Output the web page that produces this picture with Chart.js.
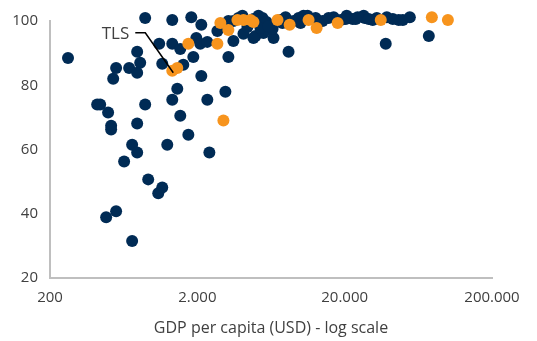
<!DOCTYPE html>
<html>
<head>
<meta charset="utf-8">
<script src="https://cdn.jsdelivr.net/npm/chart.js@4"></script>
<style>
  body { margin: 0; background: #fff; }
</style>
</head>
<body>
<canvas id="gdpChart" width="537" height="341"></canvas>
<script>
// =========================
// DATA
// =========================

// GDP per capita (USD), other countries
const otherGdp = [
  265, 885, 1352, 1820, 2128, 2736, 3514, 781, 1102, 1352,
  1968, 2094, 2338, 1532, 1878, 1606, 1156, 819, 689, 562,
  781, 537, 2128, 3514, 3250, 1462, 1352, 2338, 3100, 418,
  438, 496, 885, 781, 520, 520, 1532, 1738, 722, 781,
  1250, 2414, 637, 928, 1156, 1086, 562, 481, 722,
  4046, 5200, 4112, 4964, 5620, 6580, 6480, 8320, 11200, 20640,
  26920, 38640, 46580, 38000, 27360, 31000, 49620, 55380, 74500,
  4446, 4808, 5540, 5900, 7340, 7940, 9000, 9740, 12700, 14160,
  15560, 16840, 18800, 22660, 24500, 29120, 33040, 42440,
  4376, 5360, 6080, 7560, 10040, 3800, 3250, 4808, 10520, 20320, 23780,
];
const otherValues = [
  88.5, 100.9, 100.3, 101.2, 98.8, 96.9, 100.0, 90.4, 92.9, 92.9,
  94.7, 92.9, 93.5, 91.3, 88.8, 86.4, 86.7, 87.0, 85.4, 85.4,
  83.9, 82.0, 82.9, 93.8, 88.8, 78.9, 75.5, 75.5, 78.0, 74.0,
  74.0, 71.5, 74.0, 68.1, 67.4, 66.2, 70.5, 64.6, 61.5, 59.1,
  61.5, 59.1, 56.3, 50.7, 48.2, 46.4, 40.8, 38.9, 31.5,
  101.6, 101.6, 96.0, 95.3, 96.3, 94.7, 97.5, 90.4, 101.6, 101.6,
  101.6, 101.2, 100.3, 92.9, 100.9, 100.3, 100.3, 101.2, 95.3,
  100.0, 100.6, 100.9, 99.7, 100.3, 101.2, 100.0, 100.9, 100.9, 100.0,
  100.9, 101.2, 100.3, 100.6, 101.2, 100.6, 100.9, 100.6,
  98.1, 97.8, 98.4, 99.4, 99.4, 100.9, 100.0, 94.7, 101.6, 100.6, 100.6,
];

// Highlighted group (first point is TLS)
const highlightGdp = [
  1352, 1462, 1738, 2736, 3006, 2866, 3250, 3742, 4112, 4588,
  4808, 7000, 8460, 11380, 12900, 17920, 35160, 78120, 100400,
];
const highlightValues = [
  84.5, 85.4, 92.9, 92.9, 69.0, 99.4, 97.2, 100.3, 100.3, 100.3,
  99.7, 100.3, 98.8, 100.3, 97.8, 99.4, 100.3, 101.2, 100.3,
];

const xTickValues = [200, 2000, 20000, 200000];
const xTickLabels = ["200", "2.000", "20.000", "200.000"];
const yTickValues = [20, 40, 60, 80, 100];

const labelPoint = { name: "TLS", index: 0 };

// =========================
// STYLES
// =========================

const NAVY = "#002b55";
const ORANGE = "#f7941d";
const AXIS_GREY = "#bfbfbf";
const TEXT = "#404040";
const FONT = "'Open Sans', sans-serif";

function toPoints(xs, ys) {
  return xs.map((x, i) => ({ x, y: ys[i] }));
}

// =========================
// TLS LABEL
// =========================

const tlsLabel = {
  id: "tlsLabel",
  afterDatasetsDraw(chart) {
    const { ctx, scales } = chart;
    const px = scales.x.getPixelForValue(highlightGdp[labelPoint.index]);
    const py = scales.y.getPixelForValue(highlightValues[labelPoint.index]);

    const elbowX = px - 27;
    const elbowY = py - 38;

    ctx.save();
    ctx.strokeStyle = "#000";
    ctx.lineWidth = 1.5;
    ctx.beginPath();
    ctx.moveTo(elbowX - 10, elbowY);
    ctx.lineTo(elbowX, elbowY);
    ctx.lineTo(px + 1, py + 2);
    ctx.stroke();

    ctx.fillStyle = TEXT;
    ctx.font = "17px " + FONT;
    ctx.textAlign = "right";
    ctx.textBaseline = "middle";
    ctx.fillText(labelPoint.name, elbowX - 16, elbowY + 1);
    ctx.restore();
  },
};

// =========================
// CHART
// =========================

new Chart(document.getElementById("gdpChart"), {
  type: "scatter",
  data: {
    datasets: [
      {
        data: toPoints(highlightGdp, highlightValues),
        backgroundColor: ORANGE,
        pointRadius: 6,
        pointBorderWidth: 0,
        pointHoverRadius: 6,
        clip: false,
        order: 0,
      },
      {
        data: toPoints(otherGdp, otherValues),
        backgroundColor: NAVY,
        pointRadius: 6,
        pointBorderWidth: 0,
        pointHoverRadius: 6,
        clip: false,
        order: 1,
      },
    ],
  },
  options: {
    responsive: false,
    animation: false,
    events: [],
    layout: { padding: { top: 20, right: 45, left: 0, bottom: 0 } },
    plugins: { legend: { display: false }, tooltip: { enabled: false } },
    scales: {
      x: {
        type: "logarithmic",
        min: 200,
        max: 200000,
        afterBuildTicks: (s) => {
          s.ticks = xTickValues.map((value) => ({ value }));
        },
        afterFit: (s) => {
          s.height = 63;
        },
        grid: { display: false, drawTicks: false },
        border: { color: AXIS_GREY, width: 2 },
        ticks: {
          autoSkip: false,
          maxRotation: 0,
          padding: 11,
          color: TEXT,
          font: { family: FONT, size: 15 },
          callback: (value) => xTickLabels[xTickValues.indexOf(value)] ?? "",
        },
        title: {
          display: true,
          text: "GDP per capita (USD) - log scale",
          color: TEXT,
          font: { family: FONT, size: 16 },
          padding: { top: 0, bottom: 3 },
        },
      },
      y: {
        min: 20,
        max: 100,
        afterBuildTicks: (s) => {
          s.ticks = yTickValues.map((value) => ({ value }));
        },
        afterFit: (s) => {
          s.width = 50;
        },
        grid: { display: false, drawTicks: false },
        border: { color: AXIS_GREY, width: 2 },
        ticks: {
          padding: 12,
          color: TEXT,
          font: { family: FONT, size: 15 },
        },
      },
    },
  },
  plugins: [tlsLabel],
});
</script>
</body>
</html>
